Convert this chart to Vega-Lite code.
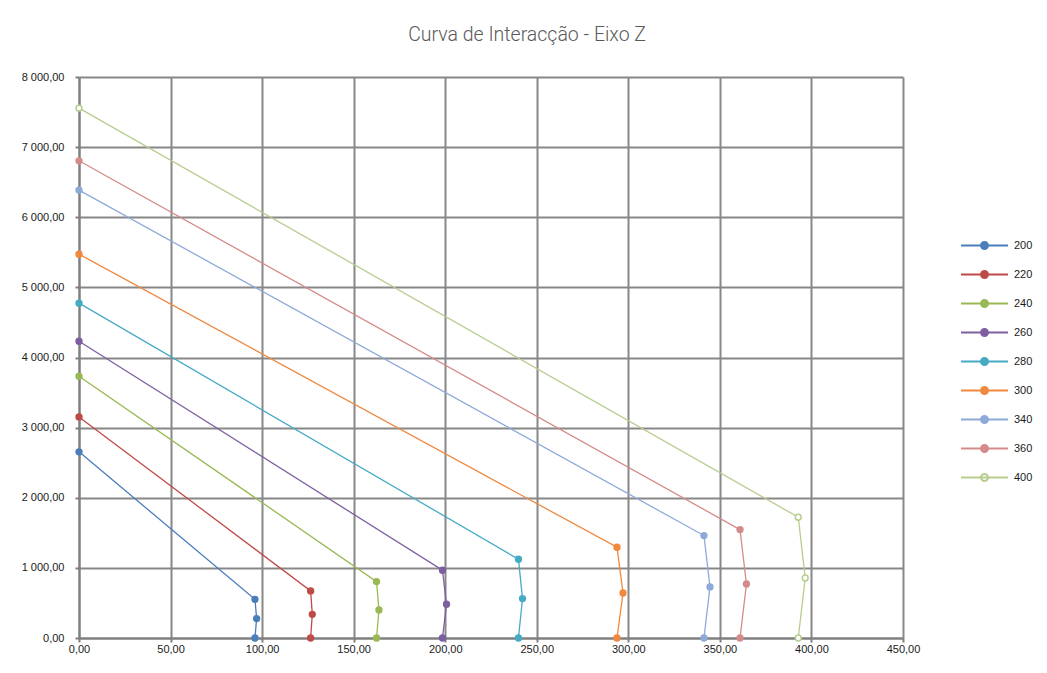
{
  "$schema": "https://vega.github.io/schema/vega-lite/v6.json",
  "width": 824,
  "height": 561,
  "autosize": {"type": "none"},
  "padding": {"left": 79, "top": 77, "right": 144, "bottom": 35},
  "background": "white",
  "title": {
    "text": "Curva de Interacção - Eixo Z",
    "font": "Roboto",
    "fontWeight": 300,
    "fontSize": 19.5,
    "color": "#595959",
    "anchor": "middle",
    "frame": "bounds",
    "offset": 26
  },
  "config": {
    "locale": {"number": {"decimal": ",", "thousands": " ", "grouping": [3], "currency": ["", ""]}},
    "view": {"stroke": null},
    "axis": {
      "labelFont": "Liberation Sans",
      "labelFontSize": 11,
      "labelColor": "#1a1a1a",
      "labelFlush": false,
      "gridColor": "#878787",
      "gridWidth": 2,
      "gridOpacity": 1,
      "domainColor": "#7f7f7f",
      "domainWidth": 2,
      "tickColor": "#7f7f7f",
      "tickWidth": 2,
      "tickSize": 4,
      "title": null
    },
    "legend": {
      "title": null,
      "orient": "none",
      "legendX": 890,
      "legendY": 153,
      "padding": 0,
      "rowPadding": 6,
      "symbolType": "M -1.62 0 L 1.62 0 M -0.24 0 A 0.24 0.24 0 1 0 0.24 0 A 0.24 0.24 0 1 0 -0.24 0 Z",
      "symbolSize": 841,
      "symbolStrokeWidth": 2,
      "labelOffset": 14,
      "labelFont": "Liberation Sans",
      "labelFontSize": 11,
      "labelColor": "#1a1a1a"
    }
  },
  "data": {
    "values": [
      {"series": "200", "i": 0, "x": 0, "y": 2655},
      {"series": "200", "i": 1, "x": 96.1, "y": 552},
      {"series": "200", "i": 2, "x": 97.0, "y": 277},
      {"series": "200", "i": 3, "x": 96.1, "y": 0},
      {"series": "220", "i": 0, "x": 0, "y": 3153},
      {"series": "220", "i": 1, "x": 126.5, "y": 671},
      {"series": "220", "i": 2, "x": 127.4, "y": 338},
      {"series": "220", "i": 3, "x": 126.5, "y": 0},
      {"series": "240", "i": 0, "x": 0, "y": 3733},
      {"series": "240", "i": 1, "x": 162.5, "y": 804},
      {"series": "240", "i": 2, "x": 163.8, "y": 400},
      {"series": "240", "i": 3, "x": 162.5, "y": 0},
      {"series": "260", "i": 0, "x": 0, "y": 4232},
      {"series": "260", "i": 1, "x": 198.5, "y": 966},
      {"series": "260", "i": 2, "x": 200.7, "y": 481},
      {"series": "260", "i": 3, "x": 198.5, "y": 0},
      {"series": "280", "i": 0, "x": 0, "y": 4775},
      {"series": "280", "i": 1, "x": 240.0, "y": 1123},
      {"series": "280", "i": 2, "x": 242.2, "y": 562},
      {"series": "280", "i": 3, "x": 240.0, "y": 0},
      {"series": "300", "i": 0, "x": 0, "y": 5474},
      {"series": "300", "i": 1, "x": 293.8, "y": 1294},
      {"series": "300", "i": 2, "x": 297.1, "y": 642},
      {"series": "300", "i": 3, "x": 293.8, "y": 0},
      {"series": "340", "i": 0, "x": 0, "y": 6387},
      {"series": "340", "i": 1, "x": 341.3, "y": 1461},
      {"series": "340", "i": 2, "x": 344.6, "y": 728},
      {"series": "340", "i": 3, "x": 341.3, "y": 0},
      {"series": "360", "i": 0, "x": 0, "y": 6805},
      {"series": "360", "i": 1, "x": 361.0, "y": 1546},
      {"series": "360", "i": 2, "x": 364.5, "y": 770},
      {"series": "360", "i": 3, "x": 361.0, "y": 0},
      {"series": "400", "i": 0, "x": 0, "y": 7556},
      {"series": "400", "i": 1, "x": 392.8, "y": 1722},
      {"series": "400", "i": 2, "x": 396.6, "y": 856},
      {"series": "400", "i": 3, "x": 392.8, "y": 0}
    ]
  },
  "encoding": {
    "x": {
      "field": "x",
      "type": "quantitative",
      "scale": {"domain": [0, 450], "nice": false, "zero": true},
      "axis": {"values": [0, 50, 100, 150, 200, 250, 300, 350, 400, 450], "format": ",.2f", "labelPadding": 1}
    },
    "y": {
      "field": "y",
      "type": "quantitative",
      "scale": {"domain": [0, 8000], "nice": false},
      "axis": {"values": [0, 1000, 2000, 3000, 4000, 5000, 6000, 7000, 8000], "format": ",.2f", "labelPadding": 11}
    }
  },
  "layer": [
    {
      "mark": {"type": "line", "strokeWidth": 1.3},
      "encoding": {
        "order": {"field": "i", "type": "quantitative"},
        "stroke": {
          "field": "series",
          "type": "nominal",
          "scale": {
            "domain": ["200", "220", "240", "260", "280", "300", "340", "360", "400"],
            "range": ["#4a7ebb", "#be4b48", "#98b954", "#7d5fa0", "#46aac5", "#f0883e", "#8eaad8", "#d48b8a", "#b7cd8f"]
          }
        }
      }
    },
    {
      "mark": {"type": "point", "filled": false, "size": 34, "strokeWidth": 1.5, "opacity": 1},
      "encoding": {
        "stroke": {"field": "series", "type": "nominal"},
        "fill": {
          "field": "series",
          "type": "nominal",
          "scale": {
            "domain": ["200", "220", "240", "260", "280", "300", "340", "360", "400"],
            "range": ["#4a7ebb", "#be4b48", "#98b954", "#7d5fa0", "#46aac5", "#f0883e", "#8eaad8", "#d48b8a", "#ffffff"]
          }
        }
      }
    }
  ]
}
